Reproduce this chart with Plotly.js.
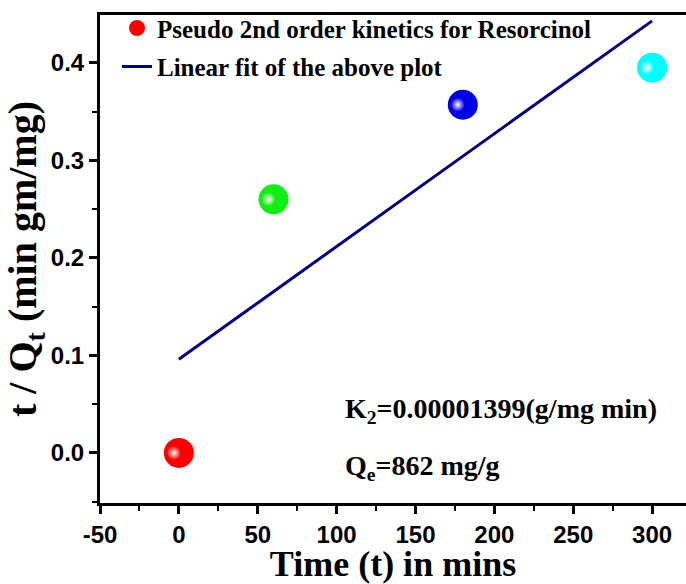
<!DOCTYPE html>
<html>
<head>
<meta charset="utf-8">
<script src="https://cdn.plot.ly/plotly-3.0.1.min.js"></script>
<style>html,body{margin:0;padding:0;background:#fff;}#chart{width:686px;height:584px;}</style>
</head>
<body>
<div id="chart"></div>
<script>
// Data
const timeMin = [0, 60, 180, 300];
const tOverQt = [0.0, 0.26, 0.357, 0.395];
const pointColors = ['#ff0000', '#11ee11', '#0000e6', '#00ffff'];
const fitX = [0, 300];
const fitY = [0.096, 0.443];
const xTickVals = [-50, 0, 50, 100, 150, 200, 250, 300];
const yTickVals = [0.0, 0.1, 0.2, 0.3, 0.4];

const serif = 'Liberation Serif, Times New Roman, serif';
const sans = 'Liberation Sans, Arial, sans-serif';

const xRange = [-50, 321.5];
const yRange = [-0.0513, 0.449];
const W = 686, H = 584;
const M = {l: 100, r: 0, t: 15, b: 81};
const plotW = W - M.l - M.r, plotH = H - M.t - M.b;
// highlight layer: shifted a few pixels up-left
const dx = 5, dy = 5;
const xpx = (xRange[1] - xRange[0]) / plotW;
const ypx = (yRange[1] - yRange[0]) / plotH;
const x2Range = [xRange[0] + dx * xpx, xRange[1]];
const y2Range = [yRange[0], yRange[1] - dy * ypx];

const traces = [
  {
    x: timeMin, y: tOverQt, type: 'scatter', mode: 'markers',
    name: 'Pseudo 2nd order kinetics for Resorcinol', legendgroup: 'a',
    marker: {size: 30, color: pointColors, line: {width: 0}}
  },
  {
    x: fitX, y: fitY, type: 'scatter', mode: 'lines',
    name: 'Linear fit of the above plot', legendgroup: 'b',
    line: {color: '#000080', width: 3}
  },
  {
    x: timeMin, y: tOverQt, type: 'scatter', mode: 'markers',
    xaxis: 'x2', yaxis: 'y2', showlegend: false, hoverinfo: 'skip',
    marker: {size: 14, color: pointColors, line: {width: 0},
             gradient: {type: 'radial', color: '#ffffff'}}
  }
];

const layout = {
  width: W, height: H,
  margin: M,
  paper_bgcolor: '#ffffff', plot_bgcolor: 'rgba(0,0,0,0)',
  showlegend: true,
  legend: {
    x: 0.029, y: 1.02, xanchor: 'left', yanchor: 'top',
    bgcolor: 'rgba(0,0,0,0)', borderwidth: 0,
    font: {family: serif, size: 25, color: '#000', weight: 'bold'},
    itemsizing: 'trace', traceorder: 'grouped', tracegroupgap: 3
  },
  xaxis: {
    range: xRange, tickvals: xTickVals, ticktext: xTickVals.map(String),
    ticks: 'outside', ticklen: 8, tickwidth: 3, tickcolor: '#000',
    showline: true, linewidth: 3, linecolor: '#000', mirror: true,
    showgrid: false, zeroline: false,
    minor: {dtick: 25, ticks: 'outside', ticklen: 5, tickwidth: 2, tickcolor: '#000', showgrid: false},
    tickfont: {family: sans, size: 24, color: '#000', weight: 'bold'},
    title: {text: 'Time (t) in mins', standoff: 5, font: {family: serif, size: 36, color: '#000', weight: 'bold'}},
    automargin: false
  },
  yaxis: {
    range: yRange, tickvals: yTickVals, ticktext: yTickVals.map(v => v.toFixed(1)),
    ticks: 'outside', ticklen: 8, tickwidth: 3, tickcolor: '#000',
    showline: true, linewidth: 3, linecolor: '#000', mirror: false,
    showgrid: false, zeroline: false,
    minor: {dtick: 0.05, ticks: 'outside', ticklen: 5, tickwidth: 2, tickcolor: '#000', showgrid: false},
    tickfont: {family: sans, size: 24, color: '#000', weight: 'bold'},
    title: {text: 't / Q<sub>t</sub> (min gm/mg)', standoff: 2, font: {family: serif, size: 40, color: '#000', weight: 'bold'}},
    automargin: false
  },
  xaxis2: {range: x2Range, domain: [0, 1 - dx / plotW], visible: false, anchor: 'y2'},
  yaxis2: {range: y2Range, domain: [0, 1 - dy / plotH], visible: false, anchor: 'x2'},
  annotations: [
    {xref: 'paper', yref: 'paper', x: 0.414, y: 0.19, xanchor: 'left', yanchor: 'middle', showarrow: false,
     text: 'K<sub>2</sub>=0.00001399(g/mg min)', font: {family: serif, size: 28, color: '#000', weight: 'bold'}},
    {xref: 'paper', yref: 'paper', x: 0.414, y: 0.072, xanchor: 'left', yanchor: 'middle', showarrow: false,
     text: 'Q<sub>e</sub>=862 mg/g', font: {family: serif, size: 28, color: '#000', weight: 'bold'}}
  ]
};

Plotly.newPlot('chart', traces, layout, {displayModeBar: false, staticPlot: true});
</script>
</body>
</html>
